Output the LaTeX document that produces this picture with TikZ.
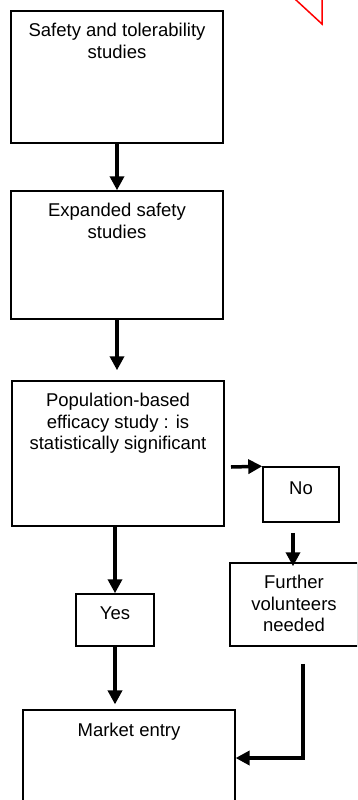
\documentclass[tikz,border=0pt]{standalone}
\usepackage{fontspec}
\setmainfont{Liberation Sans}
\usetikzlibrary{arrows.meta}
\tikzset{
  stage/.style={draw, line width=1.5pt, inner sep=0pt},
  stagetext/.style={anchor=north, align=center, inner sep=0pt, font=\fontsize{18.5}{21.5}\selectfont},
  flow/.style={line width=3.5pt, -{Triangle[width=14pt,length=14pt]}}
}
\begin{document}
\begin{tikzpicture}[x=1pt,y=-1pt]
\useasboundingbox (0,0) rectangle (357,800);
\clip (0,0) rectangle (357,800);

% boxes
\node[stage, minimum width=212pt, minimum height=132pt] (safety) at (117,77) {};
\node[stage, minimum width=212pt, minimum height=128pt] (expanded) at (117,255) {};
\node[stage, minimum width=212pt, minimum height=145pt] (population) at (118,453.5) {};
\node[stage, minimum width=76pt, minimum height=55pt] (no) at (301,494.5) {};
\node[stage, minimum width=128pt, minimum height=83pt] (further) at (294,604.5) {};
\node[stage, minimum width=78pt, minimum height=52pt] (yes) at (115,620) {};
\node[stage, line width=1.2pt, minimum width=212pt, minimum height=96pt] (market) at (129,758) {};

% texts
\node[stagetext] (safety-text) at ([yshift=-13pt]safety.north) {Safety and tolerability\\studies};
\node[stagetext] (expanded-text) at ([yshift=-13pt]expanded.north) {Expanded safety\\studies};
\node[stagetext] (population-text) at ([yshift=-13pt]population.north) {Population-based\\efficacy study : is\\statistically significant};
\node[stagetext] (no-text) at ([yshift=-15pt]no.north) {No};
\node[stagetext] (further-text) at ([yshift=-13pt]further.north) {Further\\volunteers\\needed};
\node[stagetext] (yes-text) at ([yshift=-13pt]yes.north) {Yes};
\node[stagetext] (market-text) at ([yshift=-13pt]market.north) {Market entry};

% arrows
\coordinate (sigout) at (231,467);
\coordinate (noout) at ([xshift=-8pt,yshift=-10pt]no.south);
\coordinate (furtherout) at ([xshift=9pt,yshift=-17pt]further.south);

\draw[flow] (safety.south) -- (expanded.north);
\draw[flow, shorten >=10pt] (expanded.south) -- (expanded.south |- population.north);
\draw[flow] (sigout) -- (no.north west);
\draw[flow, shorten >=-4pt] (noout) -- (noout |- further.north);
\draw[flow] (yes.north |- population.south) -- (yes.north);
\draw[flow, shorten >=5pt] (yes.south) -- (yes.south |- market.north);
\draw[flow] (furtherout) |- (market.east);

\draw[red, line width=1.5pt] (289.5,-6) -- (322,24) -- (322,-6);
\end{tikzpicture}
\end{document}
